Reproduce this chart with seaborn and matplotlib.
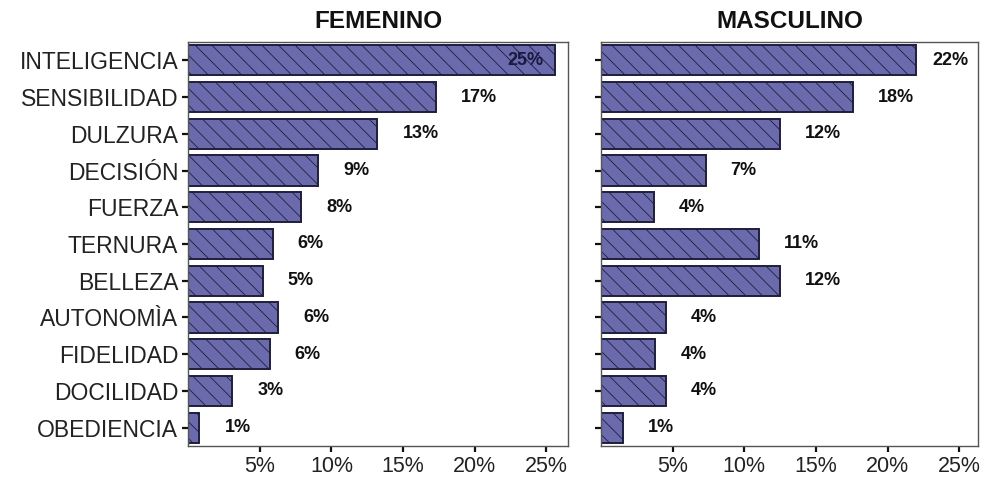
import numpy as np
import pandas as pd
import matplotlib
matplotlib.use("Agg")
import matplotlib.pyplot as plt
import seaborn as sns

# Data (percent)
categories = ["INTELIGENCIA", "SENSIBILIDAD", "DULZURA", "DECISIÓN", "FUERZA",
              "TERNURA", "BELLEZA", "AUTONOMÌA", "FIDELIDAD", "DOCILIDAD", "OBEDIENCIA"]
femenino = [25.6, 17.3, 13.2, 9.1, 7.9, 5.9, 5.2, 6.3, 5.7, 3.1, 0.8]
masculino = [22.0, 17.6, 12.5, 7.3, 3.7, 11.0, 12.5, 4.5, 3.8, 4.5, 1.5]
femenino_labels = ["25%", "17%", "13%", "9%", "8%", "6%", "5%", "6%", "6%", "3%", "1%"]
masculino_labels = ["22%", "18%", "12%", "7%", "4%", "11%", "12%", "4%", "4%", "4%", "1%"]
panels = ["FEMENINO", "MASCULINO"]
xticks = [5, 10, 15, 20, 25]

sns.set_theme(style="white")
plt.rcParams['font.family'] = ['Liberation Sans', 'DejaVu Sans']
plt.rcParams['hatch.color'] = '#8e8ecc'
plt.rcParams['hatch.linewidth'] = 0.6

fig = plt.figure(figsize=(9.84, 4.83), dpi=100)
W, H = 984, 483
ax_f = fig.add_axes([188 / W, 37 / H, 380 / W, 404 / H])
ax_m = fig.add_axes([601 / W, 37 / H, 377 / W, 404 / H])

series = [(ax_f, femenino, femenino_labels, 26.5),
          (ax_m, masculino, masculino_labels, 26.3)]

for (ax, vals, labs, xmax), title in zip(series, panels):
    df = pd.DataFrame({"cat": categories, "val": vals})
    sns.barplot(data=df, x="val", y="cat", orient="h", ax=ax,
                color="#6a6aad", saturation=1, width=0.82,
                edgecolor="#1e1e3c", linewidth=1.4)
    for p in ax.patches:
        p.set_hatch("\\\\")
    ax.set_xlim(0, xmax)
    ax.set_ylim(len(categories) - 0.5, -0.5)
    ax.set_xticks(xticks)
    ax.set_xticklabels([f"{t}%" for t in xticks], fontsize=15.5, color="#222222")
    ax.set_xlabel("")
    ax.set_ylabel("")
    ax.set_title(title, fontsize=17.5, fontweight="bold", pad=10, color="#111111")
    ax.tick_params(axis="both", direction="out", length=4, width=1.6,
                   color="#111111", bottom=True, left=True, pad=3)
    for s in ax.spines.values():
        s.set_color("#555555")
        s.set_linewidth(1.0)
    for i, (v, lab) in enumerate(zip(vals, labs)):
        x = min(v + 1.75, xmax - 3.2)
        if x < v:
            ax.text(v - 0.8, i, lab, ha="right", va="center", fontsize=13,
                    fontweight="bold", color="#1a1a40")
        else:
            ax.text(x, i, lab, ha="left", va="center", fontsize=13,
                    fontweight="bold", color="#111111")

ax_f.set_yticks(range(len(categories)))
ax_f.set_yticklabels(categories, fontsize=16.5, color="#222222")
ax_m.set_yticks(range(len(categories)))
ax_m.set_yticklabels([])

fig.savefig("out.png", dpi=100)
